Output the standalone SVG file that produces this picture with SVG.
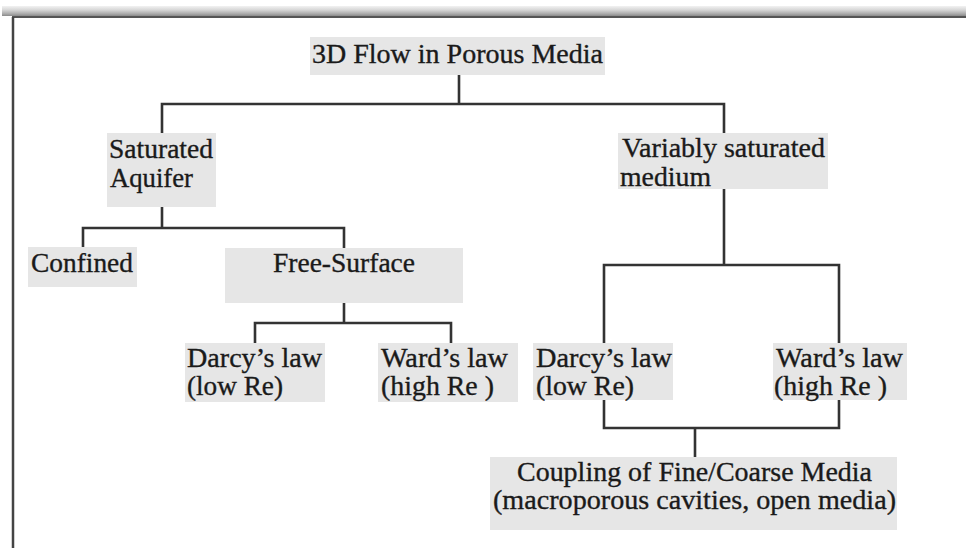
<svg xmlns="http://www.w3.org/2000/svg" width="966" height="548" viewBox="0 0 966 548">
<defs>
<linearGradient id="bar" x1="0" y1="0" x2="0" y2="1">
<stop offset="0" stop-color="#f2f2f2"/>
<stop offset="0.4" stop-color="#d6d6d6"/>
<stop offset="0.8" stop-color="#a8a8a8"/>
<stop offset="1" stop-color="#8a8a8a"/>
</linearGradient>
</defs>
<style>
.box{fill:#e6e6e6;stroke:none}
.t{font-family:"Liberation Serif","Times New Roman",serif;font-size:27.5px;fill:#1a1a1a;stroke:#1a1a1a;stroke-width:0.35}
.c{fill:none;stroke:#333;stroke-width:2.6;stroke-linecap:square}
</style>
<rect x="0" y="0" width="966" height="548" fill="#fff"/>
<g id="frame">
<rect x="2" y="6" width="964" height="10" fill="url(#bar)"/>
<line x1="12" y1="17" x2="966" y2="17" stroke="#555" stroke-width="2"/>
<line x1="13" y1="17" x2="13" y2="548" stroke="#444" stroke-width="2.5"/>
</g>
<g id="connectors">
<path class="c" d="M459 75 V104 M162 104 H724 M162 104 V133 M724 104 V133"/>
<path class="c" d="M162 207 V228 M83 228 H344 M83 228 V247 M344 228 V248"/>
<path class="c" d="M344 303 V323 M255 323 H451 M255 323 V343 M451 323 V343"/>
<path class="c" d="M724 189 V265 M604 265 H839 M604 265 V343 M839 265 V343"/>
<path class="c" d="M604 400 V428 M839 400 V428 M604 428 H839 M695 428 V457"/>
</g>
<g id="root">
<rect class="box" x="310" y="37" width="295" height="38"/>
<text class="t" x="312" y="63" textLength="291" lengthAdjust="spacingAndGlyphs">3D Flow in Porous Media</text>
</g>
<g id="saturated">
<rect class="box" x="107" y="133" width="109" height="74"/>
<text class="t" x="109" y="158" textLength="104" lengthAdjust="spacingAndGlyphs">Saturated</text>
<text class="t" x="110" y="187" textLength="83" lengthAdjust="spacingAndGlyphs">Aquifer</text>
</g>
<g id="variably">
<rect class="box" x="618" y="133" width="210" height="56"/>
<text class="t" x="622" y="157" textLength="203" lengthAdjust="spacingAndGlyphs">Variably saturated</text>
<text class="t" x="620" y="186" textLength="91" lengthAdjust="spacingAndGlyphs">medium</text>
</g>
<g id="confined">
<rect class="box" x="28" y="247" width="109" height="40"/>
<text class="t" x="31" y="272" textLength="102" lengthAdjust="spacingAndGlyphs">Confined</text>
</g>
<g id="freesurface">
<rect class="box" x="225" y="248" width="238" height="55"/>
<text class="t" x="273" y="272" textLength="142" lengthAdjust="spacingAndGlyphs">Free-Surface</text>
</g>
<g id="darcy-left">
<rect class="box" x="185" y="343" width="140" height="59"/>
<text class="t" x="187" y="367" textLength="135" lengthAdjust="spacingAndGlyphs">Darcy’s law</text>
<text class="t" x="187" y="395" textLength="96" lengthAdjust="spacingAndGlyphs">(low Re)</text>
</g>
<g id="ward-left">
<rect class="box" x="378" y="343" width="140" height="59"/>
<text class="t" x="381" y="367" textLength="127" lengthAdjust="spacingAndGlyphs">Ward’s law</text>
<text class="t" x="381" y="395" textLength="113" lengthAdjust="spacingAndGlyphs">(high Re )</text>
</g>
<g id="darcy-right">
<rect class="box" x="533" y="343" width="140" height="57"/>
<text class="t" x="536" y="367" textLength="136" lengthAdjust="spacingAndGlyphs">Darcy’s law</text>
<text class="t" x="536" y="395" textLength="98" lengthAdjust="spacingAndGlyphs">(low Re)</text>
</g>
<g id="ward-right">
<rect class="box" x="773" y="343" width="134" height="57"/>
<text class="t" x="776" y="367" textLength="127" lengthAdjust="spacingAndGlyphs">Ward’s law</text>
<text class="t" x="774" y="395" textLength="113" lengthAdjust="spacingAndGlyphs">(high Re )</text>
</g>
<g id="coupling">
<rect class="box" x="490" y="457" width="407" height="73"/>
<text class="t" x="517" y="481" textLength="355" lengthAdjust="spacingAndGlyphs">Coupling of Fine/Coarse Media</text>
<text class="t" x="493" y="509" textLength="403" lengthAdjust="spacingAndGlyphs">(macroporous cavities, open media)</text>
</g>
</svg>
